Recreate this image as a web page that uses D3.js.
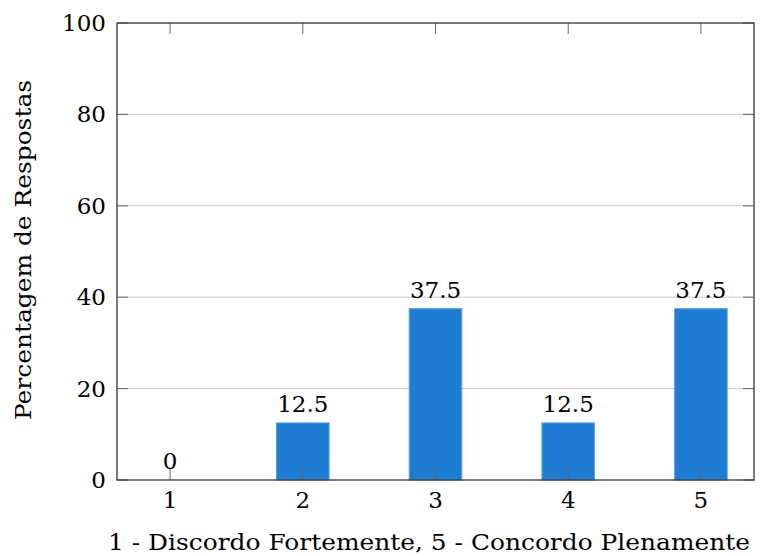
<!DOCTYPE html>
<html><head><meta charset="utf-8">
<script src="https://cdn.jsdelivr.net/npm/d3@7"></script>
<style>body{margin:0;background:#fff}text{font-family:"DejaVu Serif",serif;fill:#000}</style>
</head><body>
<svg id="chart" width="766" height="556"></svg>
<script>
const categories = [1, 2, 3, 4, 5];
const values = [0, 12.5, 37.5, 12.5, 37.5];
const yTicks = [0, 20, 40, 60, 80, 100];
const xLabel = "1 - Discordo Fortemente, 5 - Concordo Plenamente";
const yLabel = "Percentagem de Respostas";

const svg = d3.select("#chart");
const L = 117, R = 754, T = 23, B = 480;
const x = d3.scaleLinear().domain([0.6, 5.4]).range([L, R]);
const y = d3.scaleLinear().domain([0, 100]).range([B, T]);
const barW = 52.6;
const fs = 23;

// horizontal grid
svg.append("g").selectAll("line").data(yTicks.filter(d => d > 0 && d < 100)).join("line")
  .attr("x1", L).attr("x2", R).attr("y1", d => y(d)).attr("y2", d => y(d))
  .attr("stroke", "#c8c8c8").attr("stroke-width", 1);

// bars
svg.append("g").selectAll("rect").data(categories.map((c, i) => ({c, v: values[i]})).filter(d => d.v > 0)).join("rect")
  .attr("x", d => x(d.c) - barW / 2).attr("width", barW)
  .attr("y", d => y(d.v)).attr("height", d => y(0) - y(d.v))
  .attr("fill", "#1f7dd3").attr("stroke", "#5ba3e6").attr("stroke-width", 1);

// value labels
svg.append("g").selectAll("text").data(categories.map((c, i) => ({c, v: values[i]}))).join("text")
  .attr("x", d => x(d.c)).attr("y", d => y(d.v) - 11)
  .attr("text-anchor", "middle").attr("font-size", fs)
  .text(d => d.v);

// axes with inward ticks on all sides
const tickLen = 11;
const ax = svg.append("g").attr("stroke", "#666").attr("stroke-width", 1);
categories.forEach(c => {
  ax.append("line").attr("x1", x(c)).attr("x2", x(c)).attr("y1", B).attr("y2", B - tickLen);
  ax.append("line").attr("x1", x(c)).attr("x2", x(c)).attr("y1", T).attr("y2", T + tickLen);
});
yTicks.forEach(t => {
  ax.append("line").attr("x1", L).attr("x2", L + tickLen).attr("y1", y(t)).attr("y2", y(t));
  ax.append("line").attr("x1", R).attr("x2", R - tickLen).attr("y1", y(t)).attr("y2", y(t));
});
svg.append("rect").attr("x", L).attr("y", T).attr("width", R - L).attr("height", B - T)
  .attr("fill", "none").attr("stroke", "#333").attr("stroke-width", 1.3);

// tick labels
svg.append("g").selectAll("text").data(categories).join("text")
  .attr("x", d => x(d)).attr("y", B + 28).attr("text-anchor", "middle").attr("font-size", fs).text(d => d);
svg.append("g").selectAll("text").data(yTicks).join("text")
  .attr("x", L - 11).attr("y", d => y(d) + 8).attr("text-anchor", "end").attr("font-size", fs).text(d => d);

// axis titles
svg.append("text").attr("x", (108 + 750) / 2).attr("y", 550).attr("text-anchor", "middle")
  .attr("font-size", fs).attr("textLength", 642).attr("lengthAdjust", "spacingAndGlyphs").text(xLabel);
svg.append("text").attr("transform", `translate(31,${(80 + 420) / 2}) rotate(-90)`)
  .attr("text-anchor", "middle").attr("font-size", fs).attr("textLength", 340).attr("lengthAdjust", "spacingAndGlyphs").text(yLabel);
</script>
</body></html>
